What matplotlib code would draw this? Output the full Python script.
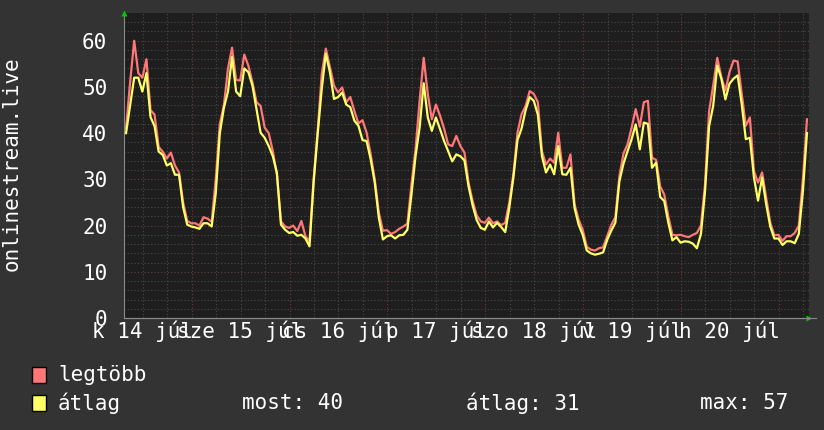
import numpy as np
import matplotlib
matplotlib.use("Agg")
import matplotlib.pyplot as plt
import matplotlib.transforms as mtransforms
from matplotlib.patches import Rectangle

# ---------------- data (hourly samples, one week) ----------------
legtobb = [41, 51, 60, 53, 52, 56, 45, 44, 37, 36, 34.5, 35.8, 33, 31.5, 25, 21,
           20.5, 20.5, 20, 21.8, 21.5, 20.8, 30, 42, 46, 54, 58.5, 51.5,
           51.4, 57, 54.6, 51, 46.7, 45.9, 41.2, 40, 36.1, 31, 20.9, 19.8, 19.5,
           20, 18.8, 21, 17.7, 16.6, 30, 40.5, 52.8, 58.3, 54.3, 50.3, 48.8,
           49.9, 46.7, 47.8,
           44.8, 42.1, 42.8, 40.1, 35.4, 30, 22.8, 18.9, 19, 18.2, 18.6, 19.3,
           19.8, 20.4, 28.9, 36.5, 47, 56.3, 48.5, 43, 46.2, 43.8, 41, 37.6,
           37.2, 39.4, 37.2, 35.8,
           29.3, 25.3, 22.2, 20.9, 20.6, 21.7, 20.5, 20.9, 20.1, 20.6, 25, 31.1,
           40.1, 44.1, 45.9, 49.1, 48.5, 46.7, 36.1, 33.2, 34.5, 33.6, 40.1,
           32.5, 32.5, 35.4, 24.6, 21.3,
           19.1, 15.4, 14.8, 14.6, 15.1, 15.3, 17.7, 20.1, 21.8, 30.7, 35.6,
           37.6, 41.2, 45.2, 41.4, 46.7, 47, 34.7, 34.2, 28.5, 26.7, 22, 18,
           17.9, 18, 17.7, 17.5, 18,
           18.4, 20, 28.9, 44.8, 50.3, 56.3, 52.1, 49.2, 53.2, 55.7, 55.5, 48.5,
           41.6, 43.4, 31.8, 29.3, 31.5, 26, 20.6, 17.9, 18, 16.7, 17.7, 17.7,
           18.4, 20, 30, 43]

atlag = [40, 46, 52, 52, 49, 53, 43.5, 41.5, 36, 35.3, 33, 33.5, 31, 31, 24,
         20.2, 19.8, 19.6, 19.3, 20.5, 20.5, 19.8, 27, 40, 45.5, 49, 56.5, 49,
         48, 54, 53.2, 50.3, 45.2, 40.1, 39, 37.2, 35, 31.4, 20.2, 19.1, 18.4,
         18.6, 17.8, 18, 17.2, 15.5, 29.3, 39.8, 49.6, 57.2, 53.2, 47.4, 47.8,
         48.8, 46.2, 45.6,
         42.7, 41.6, 38.5, 38.3, 34.3, 29.3, 21.7, 17, 17.7, 17.9, 17.2, 17.9,
         18, 19.1, 26.7, 35, 41.2, 50.8, 43.4, 40.5, 43.4, 40.9, 38.3, 36.1,
         33.9, 35.4, 35, 34.1,
         28.5, 24.4, 21.2, 19.5, 19.1, 20.9, 19.6, 20.6, 19.7, 18.6, 23.9, 30.4,
         38.5, 41, 45, 47.8, 47, 44, 35, 31.5, 33.2, 31.1, 37.2, 31.1, 31,
         32.5, 23.8, 20.2,
         18, 14.6, 14, 13.7, 13.9, 14.2, 16.9, 18.9, 20.6, 29.6, 33.4, 36.1,
         38.7, 41.9, 36.5, 42.3, 42, 32.5, 33.6, 26.2, 25.3, 20.6, 16.8, 17.5,
         16.3, 16.6, 16.5, 16.1,
         15.1, 18.2, 27.4, 41.5, 45.9, 54.6, 51.8, 47.3, 50.7, 51.8, 52.5, 46.3,
         38.7, 39, 30.4, 25.4, 30.4, 24.6, 19.8, 17.2, 17.2, 15.8, 16.6, 16.6,
         16.2, 18.2, 27.4, 40]

first_midnight = 16.6          # hours after the first sample
day_labels = ["k 14 júl", "sze 15 júl", "cs 16 júl", "p 17 júl",
              "szo 18 júl", "v 19 júl", "h 20 júl"]
y_ticks = [0, 10, 20, 30, 40, 50, 60]
series_names = ["legtöbb", "átlag"]
stat_names = ["most", "átlag", "max"]
stat_values = [40, 31, 57]
title_left = "onlinestream.live"

# ---------------- style ----------------
W, H = 824, 430
BG = "#333333"
CANVAS = "#1e1e1e"
RED = "#ff7777"
YEL = "#ffff66"
TXT = "#ffffff"
MINOR = "#4a4a4a"
MAJOR = "#6e3a3a"
FONT = "DejaVu Sans Mono"

plt.rcParams["font.family"] = [FONT, "DejaVu Sans"]

fig = plt.figure(figsize=(W / 100, H / 100), dpi=100, facecolor=BG)
left, right, top, bottom = 124, 809, 13, 318
ax = fig.add_axes([left / W, 1 - bottom / H, (right - left) / W, (bottom - top) / H])
ax.set_facecolor(CANVAS)

n = len(atlag)
hours = np.arange(n) + 0.5
ax.set_xlim(0, n)
ax.set_ylim(0, 66)

# grid
dot = (0, (1, 2))
for h in np.arange(first_midnight - 12, n, 6):
    if h <= 0:
        continue
    is_major = abs(((h - first_midnight) / 24) - round((h - first_midnight) / 24)) < 1e-6
    ax.axvline(h, color=MAJOR if is_major else MINOR, lw=0.8, ls=dot, zorder=1)
for v in np.arange(2, 66, 2):
    ax.axhline(v, color=MAJOR if v % 10 == 0 else MINOR, lw=0.8, ls=dot, zorder=1)

# series
ax.plot(hours, legtobb, color=RED, lw=1.6, zorder=3)
ax.plot(hours, atlag, color=YEL, lw=1.6, zorder=4)

# axes
for s in ["top", "right"]:
    ax.spines[s].set_visible(False)
for s in ["left", "bottom"]:
    ax.spines[s].set_color("#8a8a8a")
    ax.spines[s].set_linewidth(0.8)
ax.set_yticks(y_ticks)
ax.set_yticklabels([str(t) for t in y_ticks])
ax.tick_params(axis="y", length=0, pad=12, labelsize=15, labelcolor=TXT)
ax.set_xticks([])

# day labels centred on noon
xtrans = mtransforms.offset_copy(ax.get_xaxis_transform(), fig=fig, y=-20, units="dots")
for i, lab in enumerate(day_labels):
    ax.text(first_midnight - 12 + 24 * i, 0, lab, transform=xtrans, ha="center",
            va="baseline", fontsize=15, color=TXT, clip_on=False)

# green arrows
ax.plot([0], [1.0], transform=ax.transAxes, marker="^", color="#00cc00", ms=5,
        clip_on=False, zorder=5, mec="none")
ax.plot([1.0], [0], transform=ax.transAxes, marker=">", color="#00cc00", ms=5,
        clip_on=False, zorder=5, mec="none")
ax.plot([0, 1.01], [0, 0], transform=ax.transAxes, color="#8a8a8a", lw=0.8,
        clip_on=False, zorder=5)

# vertical title
fig.text(12 / W, 1 - 164 / H, title_left, rotation=90, ha="center", va="center",
         fontsize=15, color=TXT)

# legend
rows_y = [375, 403]
colors = [RED, YEL]
for name, col, yc in zip(series_names, colors, rows_y):
    fig.patches.append(Rectangle((32 / W, 1 - (yc + 8) / H), 14 / W, 16 / H,
                                 transform=fig.transFigure, facecolor=col,
                                 edgecolor="black", lw=1))
    fig.text(58 / W, 1 - yc / H, name, ha="left", va="center", fontsize=15, color=TXT)
for name, val, xs in zip(stat_names, stat_values, [242, 466, 700]):
    fig.text(xs / W, 1 - rows_y[1] / H, f"{name}: {val}", ha="left", va="center",
             fontsize=15, color=TXT)

fig.savefig("out.png", dpi=100, facecolor=BG)
